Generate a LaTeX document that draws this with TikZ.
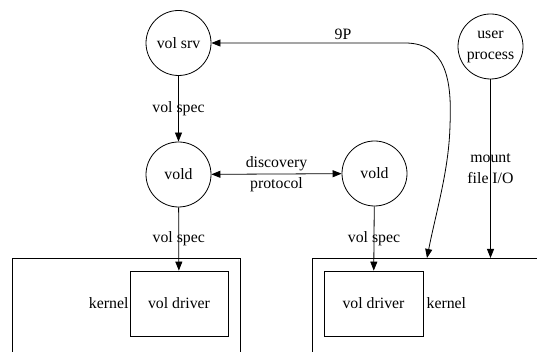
\documentclass[tikz,border=0pt]{standalone}
\usepackage{fontspec}
\setmainfont{Liberation Serif}
\usetikzlibrary{arrows.meta,positioning}
\tikzset{
  >={Triangle[length=9pt,width=7pt]},
  proc/.style={circle,draw,minimum size=65pt,inner sep=0pt,align=center,line width=.8pt},
  drvbox/.style={draw,minimum width=98pt,minimum height=65pt,line width=.8pt},
  zone/.style={draw,minimum height=140pt,anchor=north west,line width=.8pt},
  flow/.style={->,line width=.8pt},
  twoway/.style={<->,line width=.8pt},
  lbl/.style={align=center,inner sep=1pt},
}

\begin{document}
\begin{tikzpicture}[x=1pt,y=-1pt,font=\fontsize{15.8}{21}\selectfont]
  \useasboundingbox (0,0) rectangle (537,352);
  \clip (0,0) rectangle (537,352);
  % kernel clusters, cut by the page bottom
  \node[zone,minimum width=228pt] (kernA) at (12,258) {};
  \node[zone,minimum width=260pt] (kernB) at (312,258) {};
  \node[drvbox] (drvA) at (179,303.5) {vol driver};
  \node[drvbox,minimum width=99pt] (drvB) at (373.5,303.5) {vol driver};
  \node[lbl,anchor=east] at (drvA.west) {kernel};
  \node[lbl,anchor=west,inner sep=3pt] at (drvB.east) {kernel};

  \node[proc] (srv) at (178.5,43) {vol srv};
  \node[proc] (voldA) at (178.5,174.5) {vold};
  \node[proc] (voldB) at (374.5,173.5) {vold};
  \node[proc] (user) at (490.5,46.5) {user\\process};
  \coordinate (nineP) at (427,258);

  \draw[flow] (srv) -- node[lbl] {vol spec} (voldA);
  \draw[twoway] (voldA) -- node[lbl] {discovery\\protocol} (voldB);
  \draw[flow] (voldA) -- node[lbl] {vol spec} (drvA);
  \draw[flow] (voldB) -- node[lbl] {vol spec} (drvB);
  \draw[flow] (user) -- node[lbl] {mount\\file I/O} (user |- kernB.north);
  \draw[twoway] (srv) -- node[pos=.68,above,inner sep=3pt] {9P} (405,43)
    .. controls (446,43) and (452,80) .. (450,125)
    .. controls (449,170) and (436,212) .. (nineP);
\end{tikzpicture}
\end{document}
